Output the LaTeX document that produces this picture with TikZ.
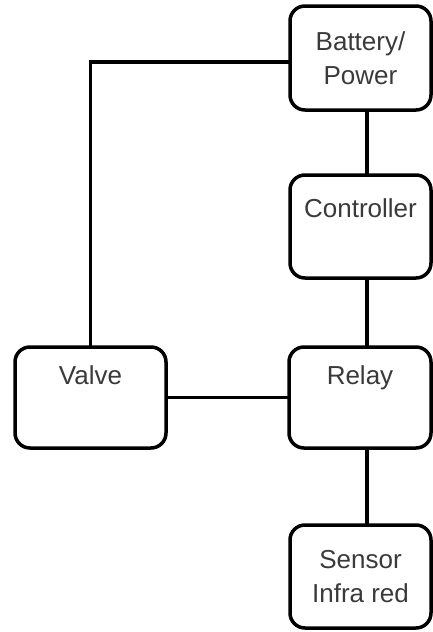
\documentclass[tikz,border=0pt]{standalone}
\usepackage{fontspec}
\setmainfont{Liberation Sans}
\definecolor{txt}{HTML}{3A3A3A}
\begin{document}
\begin{tikzpicture}[x=1pt,y=-1pt,
  box/.style={draw=black, line width=3.5pt, rounded corners=15pt, fill=white,
    inner sep=0pt, outer sep=0pt, text=txt,
    font=\fontsize{26}{34}\selectfont, align=center},
  wire/.style={line width=3.5pt}]
\fill[white] (0,0) rectangle (433,632);
\useasboundingbox (0,0) rectangle (433,632);
\coordinate (xl) at (367,0);
\node[box, minimum width=141pt, minimum height=104pt] (bat) at (360.5,58) {Battery/\\Power};
\node[box, minimum width=141pt, text height=42.5pt, text depth=60.5pt, anchor=north] (ctrl) at (360.5,175) {Controller};
\node[box, minimum width=142pt, text height=37.5pt, text depth=63.5pt, anchor=north] (relay) at (360,347) {Relay};
\node[box, minimum width=151pt, text height=37.5pt, text depth=63.5pt, anchor=north] (valve) at (90.5,347) {Valve};
\node[box, minimum width=141pt, minimum height=103pt] (sens) at (360.5,576.5) {Sensor\\Infra red};
\draw[wire] (bat.south -| xl) -- (ctrl.north -| xl);
\draw[wire] (ctrl.south -| xl) -- (relay.north -| xl);
\draw[wire] (relay.south -| xl) -- (sens.north -| xl);
\draw[wire] ([yshift=-4pt]bat.west) -| (valve.north);
\draw[wire] (valve.east) -- (relay.west);
\end{tikzpicture}
\end{document}
